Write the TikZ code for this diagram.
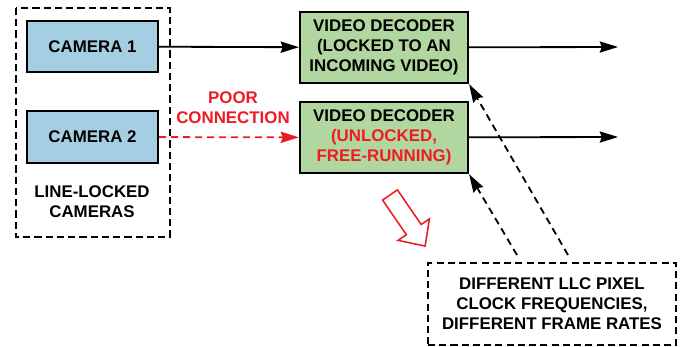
\documentclass[tikz,border=0pt]{standalone}
\usepackage{fontspec}
\setmainfont{Liberation Sans}
\usepackage{xcolor}
\usepackage{tikz}
\usetikzlibrary{arrows.meta}
\usetikzlibrary{calc}

\definecolor{camblue}{RGB}{166,206,227}
\definecolor{decgreen}{RGB}{178,214,160}
\definecolor{linkred}{RGB}{237,28,36}

\begin{document}
\begin{tikzpicture}[x=0.025cm,y=-0.025cm,
	txt/.style={font=\fontsize{12}{14.2}\selectfont\bfseries,align=center},
	cambox/.style={txt,draw,line width=1.5pt,fill=camblue,minimum width=3.28cm,minimum height=1.28cm},
	decbox/.style={txt,draw,line width=1.5pt,fill=decgreen,minimum width=4.2cm,minimum height=1.78cm},
	flow/.style={line width=1.3pt,-{Stealth[length=13pt,width=8pt,inset=1.5pt]}},
	dashflow/.style={flow,dash pattern=on 5pt off 3.5pt},
	framed/.style={line width=1.3pt,dash pattern=on 5pt off 3pt}]
	
	\useasboundingbox (0,0) rectangle (680,347);
	
	\draw [framed] (16,8) rectangle (170,237);
	
	\node [cambox] (cam1) at (92.5,46.5) {CAMERA 1};
	
	\node [cambox] (cam2) at (92.5,137) {CAMERA 2};
	
	\node [txt] (camlbl) at (92,202) {LINE-LOCKED\\CAMERAS};
	
	\node [decbox] (dec1) at (384,47.5) {VIDEO DECODER\\(LOCKED TO AN\\INCOMING VIDEO)};
	
	\node [decbox] (dec2) at (384,137.5) {VIDEO DECODER\\\textcolor{linkred}{(UNLOCKED,}\\\textcolor{linkred}{FREE-RUNNING)}};
	
	\node [txt,text=linkred] (poor) at (233,108) {POOR\\CONNECTION};
	
	\node [txt,draw,framed,minimum width=6.2cm,minimum height=2.05cm] (note) at (552,304) {DIFFERENT LLC PIXEL\\CLOCK FREQUENCIES,\\DIFFERENT FRAME RATES};
	
	\coordinate (out1) at (618,47);
	
	\coordinate (out2) at (618,137);
	
	\coordinate (src1) at (568,255);
	
	\coordinate (src2) at (517,255);
	
	\draw [flow] (cam1) -- (dec1);
	
	\draw [dashflow,linkred] (cam2) -- (dec2);
	
	\draw [flow] (dec1) -- (out1);
	
	\draw [flow] (dec2) -- (out2);
	
	\draw [dashflow] (src1) -- (dec1.south east);
	
	\draw [dashflow] (src2) -- (dec2.south east);
	
	\begin{scope}[shift={(390,195)},rotate=-55.5]
		\draw [linkred,line width=1.1pt,fill=white] (0,-9) -- (42,-9) -- (42,-19) -- (62,0) -- (42,19) -- (42,9) -- (0,9) -- cycle;
	\end{scope}
	
\end{tikzpicture}
\end{document}
